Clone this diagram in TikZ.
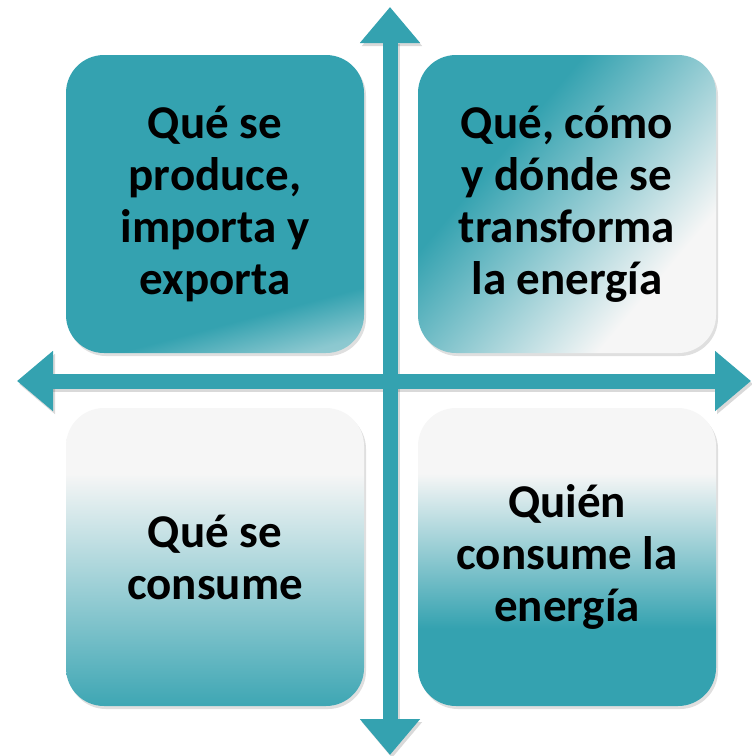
\documentclass[tikz,border=0pt]{standalone}
\usepackage{fontspec}
\setmainfont{Carlito}
\usetikzlibrary{arrows.meta,shadows}
\definecolor{agua}{RGB}{52,162,176}
\definecolor{claro}{RGB}{246,246,246}
% degradados de los cuadros
\pgfdeclareverticalshading{degradeA}{100bp}{color(0bp)=(agua!20!claro); color(22bp)=(agua!55!claro); color(30bp)=(agua); color(100bp)=(agua)}
\pgfdeclarehorizontalshading{degradeB}{100bp}{color(0bp)=(agua); color(36bp)=(agua); color(70bp)=(claro); color(100bp)=(claro)}
\pgfdeclareverticalshading{degradeC}{100bp}{color(0bp)=(agua!95!claro); color(25bp)=(agua!95!claro); color(64bp)=(claro); color(100bp)=(claro)}
\pgfdeclareverticalshading{degradeD}{100bp}{color(0bp)=(agua); color(38bp)=(agua); color(64bp)=(claro); color(100bp)=(claro)}
\begin{document}
\begin{tikzpicture}[x=1pt,y=-1pt]
  \tikzset{cuadro/.style={rectangle,rounded corners=38pt,minimum width=298pt,minimum height=298pt,
    align=center,font=\bfseries\fontsize{47}{52}\selectfont,
    drop shadow={opacity=0.25,shadow xshift=2pt,shadow yshift=-3pt}}}
  \tikzset{eje/.style={line width=15pt,draw=#1,{Triangle[length=36pt,width=58pt]}-{Triangle[length=36pt,width=58pt]}}}
  \useasboundingbox (0,0) rectangle (752,756);

  \node [cuadro,shading=degradeA,shading angle=15] (produce) at (215,204) {Qué se\\produce,\\importa y\\exporta};
  \node [cuadro,shading=degradeB,shading angle=-40] (transforma) at (567,204) {Qué, cómo\\y dónde se\\transforma\\la energía};
  \node [cuadro,shading=degradeC] (consume) at (215,557) {Qué se\\consume};
  \node [cuadro,shading=degradeD] (quien) at (567,557) {Quién\\consume la\\energía};

  \coordinate (arriba) at (390,7);
  \coordinate (abajo) at (390,755);
  \coordinate (izq) at (17,381);
  \coordinate (der) at (751,381);

  \draw [eje=black,opacity=0.15,transform canvas={shift={(2,3)}}] (arriba) -- (abajo);
  \draw [eje=black,opacity=0.15,transform canvas={shift={(2,3)}}] (izq) -- (der);
  \draw [eje=agua] (arriba) -- (abajo);
  \draw [eje=agua] (izq) -- (der);
\end{tikzpicture}
\end{document}
